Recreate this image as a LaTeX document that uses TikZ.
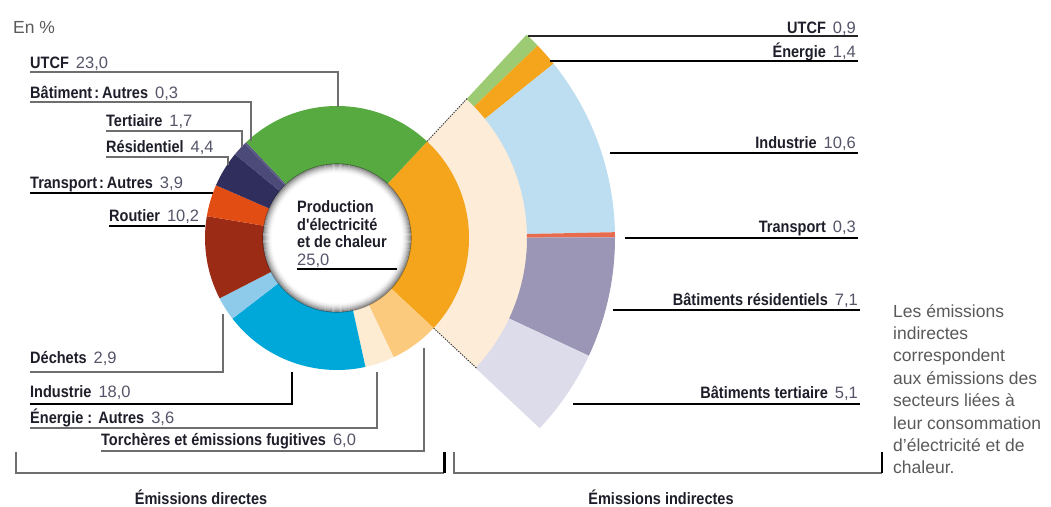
\documentclass[tikz,border=0pt]{standalone}
\usepackage{fontspec}
\setmainfont{Liberation Sans}
\newfontfamily\labfont[FakeStretch=0.88]{Liberation Sans}
\newfontfamily\numfont{Liberation Sans}
\definecolor{cOrange}{HTML}{F4A51C}
\definecolor{cTorch}{HTML}{FBCA7C}
\definecolor{cEnAut}{HTML}{FDEBD2}
\definecolor{cPeach}{HTML}{FDEDD8}
\definecolor{cIndus}{HTML}{00A8D9}
\definecolor{cDech}{HTML}{8ECAE9}
\definecolor{cRout}{HTML}{9C2B15}
\definecolor{cTrAut}{HTML}{E24D14}
\definecolor{cResid}{HTML}{2F2E5D}
\definecolor{cTert}{HTML}{4B4A78}
\definecolor{cBatAut}{HTML}{5A5A84}
\definecolor{cUTCF}{HTML}{56AA3F}
\definecolor{ciUTCF}{HTML}{9DCB73}
\definecolor{ciInd}{HTML}{BDDDF1}
\definecolor{ciTr}{HTML}{E96B4D}
\definecolor{ciRes}{HTML}{9B96B5}
\definecolor{ciTer}{HTML}{DDDCEB}
\definecolor{labc}{HTML}{1E1E2A}
\definecolor{valc}{HTML}{55556A}
\definecolor{notec}{HTML}{5A5A5A}
\definecolor{linec}{HTML}{6E6E6E}
\newcommand\valtxt[1]{{\numfont\mdseries\fontsize{16.5}{18}\selectfont\color{valc}#1}}
\newcommand\ringseg[5]{\fill[#5] (#3:#1) arc[start angle=#3,end angle=#4,radius=#1] -- (#4:#2) arc[start angle=#4,end angle=#3,radius=#2] -- cycle;}
\begin{document}
\begin{tikzpicture}[x=1pt,y=1pt,
  lbl/.style={inner sep=0pt, text=labc, font=\labfont\bfseries\fontsize{16.5}{18}\selectfont},
  note/.style={inner sep=0pt, text=notec, font=\numfont\fontsize{17.5}{22.4}\selectfont},
  gline/.style={draw=linec, line width=1.3pt},
  bline/.style={draw=black, line width=1.8pt},
  tline/.style={draw=black, line width=2.6pt},
  dline/.style={draw=black!85, line width=1.3pt}]
\useasboundingbox (0,0) rectangle (1051,-506);
\fill[white] (0,0) rectangle (1051,-506);
\coordinate (C) at (337,-238);
% ---------- rings ----------
\begin{scope}[shift={(337,-238)}]
  % indirect
  \ringseg{131}{191}{47}{-43}{cPeach}
  \ringseg{190}{278}{47}{43.8}{ciUTCF}
  \ringseg{190}{278}{43.8}{38.83}{cOrange}
  \ringseg{190}{278}{38.83}{1.2}{ciInd}
  \ringseg{190}{278}{1.2}{0.14}{ciTr}
  \ringseg{190}{278}{0.14}{-25.07}{ciRes}
  \ringseg{190}{278}{-25.07}{-43.17}{ciTer}
  \draw[black!80, line width=0.9pt, dash pattern=on 1.4pt off 1.2pt] (47:132) -- (47:191);
  \draw[black!80, line width=0.9pt, dash pattern=on 1.4pt off 1.2pt] (-43:132) -- (-43:191);
  % direct
  \ringseg{70}{132}{47}{-43}{cOrange}
  \ringseg{70}{132}{-43}{-64.6}{cTorch}
  \ringseg{70}{132}{-64.6}{-77.56}{cEnAut}
  \ringseg{70}{132}{-77.56}{-142.36}{cIndus}
  \ringseg{70}{132}{-142.36}{-152.8}{cDech}
  \ringseg{70}{132}{-152.8}{-189.52}{cRout}
  \ringseg{70}{132}{-189.52}{-203.56}{cTrAut}
  \ringseg{70}{132}{-203.56}{-219.4}{cResid}
  \ringseg{70}{132}{-219.4}{-225.52}{cTert}
  \ringseg{70}{132}{-225.52}{-226.6}{cBatAut}
  \ringseg{70}{132}{-226.6}{-313}{cUTCF}
  % centre disc with inner shadow
  \fill[white] (0,0) circle[radius=74];
  \foreach \i in {0,...,9}{
    \pgfmathsetmacro\op{0.45*(1-\i/10)^2}
    \draw[black, opacity=\op, line width=1.1pt] (0,0) circle[radius=74-\i];
  }
\end{scope}
% ---------- centre text ----------
\node[lbl, anchor=base west] (p1) at (297,-212) {Production};
\node[lbl, anchor=base west] (p2) at (297,-230) {d'électricité};
\node[lbl, anchor=base west] (p3) at (297,-247.5) {et de chaleur};
\node[anchor=base west, inner sep=0pt] (p4) at (297,-265) {\valtxt{25,0}};
\coordinate (p4e) at (397,-269);
\draw[bline] ([yshift=-4pt]p4.base west) -- (p4e);
% ---------- En % ----------
\node[note, anchor=base west] (enp) at (13,-33) {En \%};
% ---------- left labels ----------
\node[lbl, anchor=base west] (lUTCF) at (30,-68) {UTCF\hspace{7pt}\valtxt{23,0}};
\node[lbl, anchor=base west] (lBat) at (30,-98) {Bâtiment\hspace{2pt}:\hspace{3pt}Autres\hspace{7pt}\valtxt{0,3}};
\node[lbl, anchor=base west] (lTert) at (106,-126) {Tertiaire\hspace{7pt}\valtxt{1,7}};
\node[lbl, anchor=base west] (lRes) at (106,-152) {Résidentiel\hspace{7pt}\valtxt{4,4}};
\node[lbl, anchor=base west] (lTr) at (30,-188) {Transport\hspace{2pt}:\hspace{3pt}Autres\hspace{7pt}\valtxt{3,9}};
\node[lbl, anchor=base west] (lRout) at (109,-221) {Routier\hspace{7pt}\valtxt{10,2}};
\coordinate (eUTCF) at (338,-107);
\coordinate (eBat) at (251,-141);
\coordinate (eTert) at (242,-147);
\coordinate (eRes) at (228,-165);
\coordinate (eTr) at (213,-193);
\coordinate (eRout) at (205,-226);
\draw[gline] ([yshift=-4pt]lUTCF.base west) -| (eUTCF);
\draw[gline] ([yshift=-4pt]lBat.base west) -| (eBat);
\draw[gline] ([yshift=-5pt]lTert.base west) -| (eTert);
\draw[gline] ([yshift=-5pt]lRes.base west) -| (eRes);
\draw[bline] ([yshift=-5pt]lTr.base west) -- (eTr);
\draw[tline] ([yshift=-5pt]lRout.base west) -- (eRout);
% ---------- bottom labels ----------
\node[lbl, anchor=base west] (bDech) at (30,-363) {Déchets\hspace{7pt}\valtxt{2,9}};
\node[lbl, anchor=base west] (bInd) at (30,-397) {Industrie\hspace{7pt}\valtxt{18,0}};
\node[lbl, anchor=base west] (bEn) at (30,-423) {Énergie :\hspace{6pt}Autres\hspace{7pt}\valtxt{3,6}};
\node[lbl, anchor=base west] (bTor) at (101,-445) {Torchères et émissions fugitives\hspace{7pt}\valtxt{6,0}};
\coordinate (fDech) at (223,-314);
\coordinate (fInd) at (292,-372);
\coordinate (fEn) at (377,-372);
\coordinate (fTor) at (424,-348);
\draw[gline] ([yshift=-9pt]bDech.base west) -| (fDech);
\draw[bline] ([yshift=-7pt]bInd.base west) -| (fInd);
\draw[gline] ([yshift=-5pt]bEn.base west) -| (fEn);
\draw[gline] ([yshift=-6pt]bTor.base west) -| (fTor);
% ---------- right labels ----------
\node[lbl, anchor=base east] (rUTCF) at (856,-33) {UTCF\hspace{7pt}\valtxt{0,9}};
\node[lbl, anchor=base east] (rEn) at (856,-57) {Énergie\hspace{7pt}\valtxt{1,4}};
\node[lbl, anchor=base east] (rInd) at (856,-148) {Industrie\hspace{7pt}\valtxt{10,6}};
\node[lbl, anchor=base east] (rTr) at (856,-232) {Transport\hspace{7pt}\valtxt{0,3}};
\node[lbl, anchor=base east] (rRes) at (858,-305) {Bâtiments résidentiels\hspace{7pt}\valtxt{7,1}};
\node[lbl, anchor=base east] (rTer) at (858,-398) {Bâtiments tertiaire\hspace{7pt}\valtxt{5,1}};
\coordinate (sUTCF) at (528,-36);
\coordinate (sEn) at (550,-61);
\coordinate (sInd) at (610,-153);
\coordinate (sTr) at (625,-238);
\coordinate (sRes) at (613,-310);
\coordinate (sTer) at (573,-404);
\draw[dline] (sUTCF) -- ([xshift=2pt,yshift=-3pt]rUTCF.base east);
\draw[tline] (sEn) -- ([xshift=2pt,yshift=-4pt]rEn.base east);
\draw[tline] (sInd) -- ([xshift=2pt,yshift=-5pt]rInd.base east);
\draw[tline] (sTr) -- ([xshift=2pt,yshift=-6pt]rTr.base east);
\draw[tline] (sRes) -- ([xshift=2pt,yshift=-5pt]rRes.base east);
\draw[bline, line width=1.5pt] (sTer) -- ([xshift=2pt,yshift=-6pt]rTer.base east);
% ---------- brackets ----------
\coordinate (bl1) at (16,-452);
\coordinate (bl2) at (444,-473);
\coordinate (bl3) at (444,-452);
\draw[gline] (bl1) |- (bl2);
\draw[black, line width=3pt] (bl2) -- (bl3);
\coordinate (br1) at (454,-452);
\coordinate (br2) at (882,-473);
\coordinate (br3) at (882,-452);
\draw[gline] (br1) |- (br2);
\draw[black, line width=1.4pt] (br2) -- (br3);
\node[lbl] (tDir) at (201,-497) {Émissions directes};
\node[lbl] (tInd) at (661,-497) {Émissions indirectes};
% ---------- note (base anchor = last line) ----------
\node[note, anchor=base west, align=left] (nt) at (893,-473.8) {Les émissions\\indirectes\\correspondent\\aux émissions des\\secteurs liées à\\leur consommation\\d’électricité et de\\chaleur.};
\end{tikzpicture}
\end{document}
